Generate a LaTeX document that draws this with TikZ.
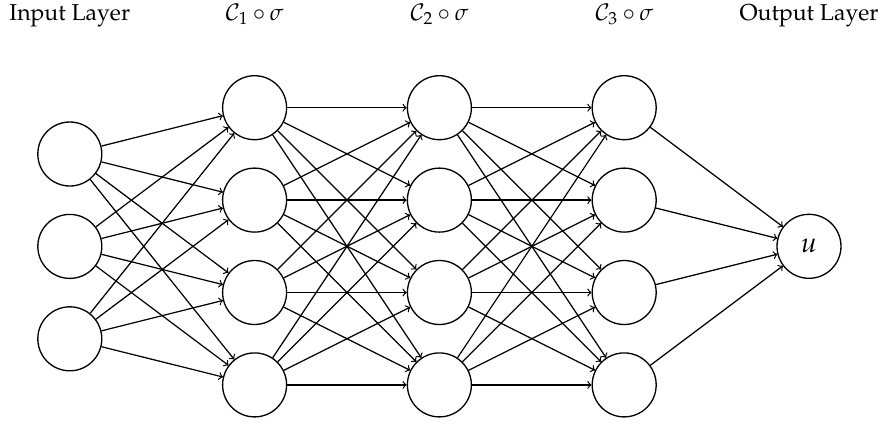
\documentclass[tikz,border=0pt]{standalone}
\usepackage[T1]{fontenc}
\usepackage{mathpazo}
\begin{document}
\begin{tikzpicture}[x=0.02cm,y=-0.02cm,
  neuron/.style={circle,draw,line width=0.75pt,minimum size=1.28cm,inner sep=0pt},
  link/.style={->,line width=0.7pt},
  layertitle/.style={anchor=base,font=\fontsize{13.1}{16}\selectfont}]
  \useasboundingbox (0,0) rectangle (883,424);
  \def\lsep{184.8}
  \def\nsep{92.4}
  % input layer
  \foreach \i in {1,2,3}
    \node[neuron] (I\i) at (69.8, {154+(\i-1)*\nsep}) {};
  % hidden layers
  \foreach \l in {1,2,3}
    \foreach \j in {1,...,4}
      \node[neuron] (H\l-\j) at ({69.8+\l*\lsep}, {107.7+(\j-1)*\nsep}) {};
  % output layer
  \node[neuron,font=\fontsize{16}{19}\selectfont] (O) at ({69.8+4*\lsep}, 246.3) {$u$};
  % connections
  \foreach \i in {1,2,3}
    \foreach \j in {1,...,4}
      \draw[link] (I\i) -- (H1-\j);
  \foreach \l/\m in {1/2,2/3}
    \foreach \i in {1,...,4}
      \foreach \j in {1,...,4}
        \draw[link] (H\l-\i) -- (H\m-\j);
  \foreach \i in {1,...,4}
    \draw[link] (H3-\i) -- (O);
  % layer titles
  \node[layertitle] (t0) at (69.8,20.5) {Input Layer};
  \node[layertitle] (t1) at ({69.8+\lsep},20.5) {$\mathcal{C}_1\circ\sigma$};
  \node[layertitle] (t2) at ({69.8+2*\lsep},20.5) {$\mathcal{C}_2\circ\sigma$};
  \node[layertitle] (t3) at ({69.8+3*\lsep},20.5) {$\mathcal{C}_3\circ\sigma$};
  \node[layertitle] (t4) at ({69.8+4*\lsep},20.5) {Output Layer};
\end{tikzpicture}
\end{document}
